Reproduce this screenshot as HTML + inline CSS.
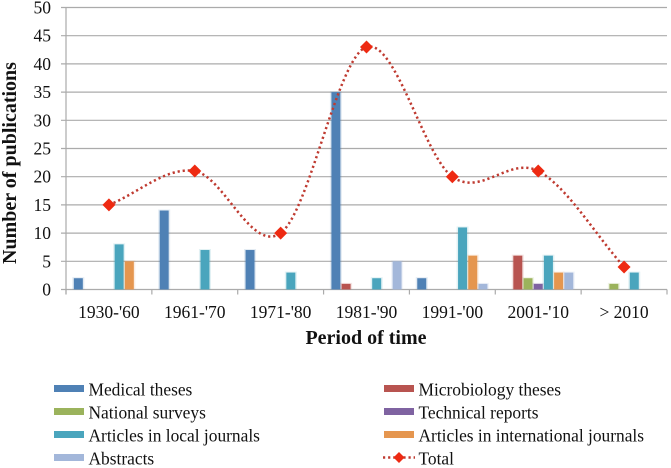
<!DOCTYPE html>
<html>
<head>
<meta charset="utf-8">
<title>Number of publications by period of time</title>
<style>
html,body{margin:0;padding:0;background:#fff;width:671px;height:468px;overflow:hidden}
svg{display:block;font-family:"Liberation Serif",serif;fill:#111}
</style>
</head>
<body>
<svg id="chart" width="671" height="468" viewBox="0 0 671 468" xmlns="http://www.w3.org/2000/svg"></svg>
<script>
var categories = ["1930-'60", "1961-'70", "1971-'80", "1981-'90", "1991-'00", "2001-'10", "> 2010"];
var yTicks = [0, 5, 10, 15, 20, 25, 30, 35, 40, 45, 50];
var medicalTheses = [2, 14, 7, 35, 2, 0, 0];
var microbiologyTheses = [0, 0, 0, 1, 0, 6, 0];
var nationalSurveys = [0, 0, 0, 0, 0, 2, 1];
var technicalReports = [0, 0, 0, 0, 0, 1, 0];
var localArticles = [8, 7, 3, 2, 11, 6, 3];
var internationalArticles = [5, 0, 0, 0, 6, 3, 0];
var abstractsCount = [0, 0, 0, 5, 1, 3, 0];
var totals = [15, 21, 10, 43, 20, 21, 4];
var seriesNames = ["Medical theses", "Microbiology theses", "National surveys", "Technical reports", "Articles in local journals", "Articles in international journals", "Abstracts"];
var seriesColors = ["#4f81b5", "#b85450", "#9bb35c", "#7f63a1", "#4aa5bd", "#e5964f", "#a3b7da"];
var seriesValues = [medicalTheses, microbiologyTheses, nationalSurveys, technicalReports, localArticles, internationalArticles, abstractsCount];

var svg = document.getElementById('chart');
var NS = 'http://www.w3.org/2000/svg';
var left = 66, right = 667, top0 = 7.5, bottom = 289.5, yMax = 50;
var catW = (right - left) / categories.length;
var slot = 10.2, barW = 9;
function y(v) { return bottom - (v / yMax) * (bottom - top0); }
function xCat(i) { return left + catW * i; }
function xMid(i) { return xCat(i) + catW / 2; }
function xBar(i, s) { return xMid(i) - slot * seriesValues.length / 2 + slot * s + (slot - barW) / 2; }
function mk(tag, attrs, parent) {
  var el = document.createElementNS(NS, tag);
  for (var k in attrs) el.setAttribute(k, attrs[k]);
  (parent || svg).appendChild(el);
  return el;
}
function diamond(cx, cy, r) {
  return (cx - r) + ',' + cy + ' ' + cx + ',' + (cy - r) + ' ' + (cx + r) + ',' + cy + ' ' + cx + ',' + (cy + r);
}

// gridlines and y tick labels
yTicks.forEach(function (t) {
  var line = mk('line', {x1: left - 5, x2: right, y1: y(t), y2: y(t), stroke: '#ababab', 'stroke-width': 1.2});
  
  
  var label = mk('text', {x: 51, y: y(t) + 6, 'text-anchor': 'end', 'font-size': 17.5});
  
  
  label.textContent = t;
});

// y axis line
var yAxis = mk('line', {x1: left, x2: left, y1: top0, y2: bottom + 5, stroke: '#ababab', 'stroke-width': 1.2});



// category ticks and labels
for (var c = 0; c <= categories.length; c++) {
  var tick = mk('line', {x1: xCat(c), x2: xCat(c), y1: bottom, y2: bottom + 5, stroke: '#ababab', 'stroke-width': 1.2});
  
  
}
categories.forEach(function (name, i) {
  var label = mk('text', {x: xMid(i), y: 318, 'text-anchor': 'middle', 'font-size': 17.5});
  
  
  label.textContent = name;
});

// bars
seriesValues.forEach(function (values, s) {
  values.forEach(function (v, i) {
    if (v <= 0) return;
    var halo = mk('rect', {x: xBar(i, s) - 1.5, y: y(v) - 1, width: barW + 3, height: bottom - y(v) + 1, fill: seriesColors[s], opacity: 0.16});
    
    
    var bar = mk('rect', {x: xBar(i, s), y: y(v), width: barW, height: bottom - y(v), fill: seriesColors[s]});
    
    
  });
});

// smoothed total line
var pts = totals.map(function (v, i) { return [xMid(i), y(v)]; });
var d = 'M' + pts[0][0] + ' ' + pts[0][1];
for (var p = 0; p < pts.length - 1; p++) {
  var p1 = pts[p], p2 = pts[p + 1];
  var c1x, c1y, c2x, c2y;
  if (p === 0) {
    c1x = p1[0] + (p2[0] - p1[0]) / 3;
    c1y = p1[1] + (p2[1] - p1[1]) / 3;
  } else {
    c1x = p1[0] + (p2[0] - pts[p - 1][0]) / 6;
    c1y = p1[1] + (p2[1] - pts[p - 1][1]) / 6;
  }
  if (p === pts.length - 2) {
    c2x = p2[0] - (p2[0] - p1[0]) / 3;
    c2y = p2[1] - (p2[1] - p1[1]) / 3;
  } else {
    c2x = p2[0] - (pts[p + 2][0] - p1[0]) / 6;
    c2y = p2[1] - (pts[p + 2][1] - p1[1]) / 6;
  }
  d += ' C' + c1x + ' ' + c1y + ' ' + c2x + ' ' + c2y + ' ' + p2[0] + ' ' + p2[1];
}
var totalLine = mk('path', {d: d, fill: 'none', stroke: '#bf3a30', 'stroke-width': 2.5, 'stroke-dasharray': '2.2 2.9'});


pts.forEach(function (pt, i) {
  var m = mk('polygon', {points: diamond(pt[0], pt[1], 6.5), fill: '#ee2a12'});
  
  
});

// axis titles
var xTitle = mk('text', {x: 366, y: 344, 'text-anchor': 'middle', 'font-size': 20, 'font-weight': 'bold'});


xTitle.textContent = 'Period of time';
var yTitle = mk('text', {x: 0, y: 0, 'text-anchor': 'middle', 'font-size': 20, 'font-weight': 'bold', transform: 'translate(16 163) rotate(-90)'});


yTitle.textContent = 'Number of publications';

// legend
var legendColumns = [0, 1, 0, 1, 0, 1, 0];
var legendRows = [0, 0, 1, 1, 2, 2, 3];
var colX = [54, 384], rowY = [388.5, 411.5, 434.5, 457.5];
seriesNames.forEach(function (name, s) {
  var sx = colX[legendColumns[s]], sy = rowY[legendRows[s]];
  var sw = mk('rect', {x: sx, y: sy - 3.5, width: 30, height: 7, fill: seriesColors[s]});
  
  
  var t = mk('text', {x: sx + 34.5, y: sy + 7, 'font-size': 17.4});
  
  
  t.textContent = name;
});
var legLine = mk('line', {x1: 383, x2: 415, y1: rowY[3], y2: rowY[3], stroke: '#bf3a30', 'stroke-width': 2.5, 'stroke-dasharray': '2.2 2.9'});


var legMark = mk('polygon', {points: diamond(399, rowY[3], 5.5), fill: '#ee2a12'});


var legText = mk('text', {x: 418.5, y: rowY[3] + 7, 'font-size': 17.4});


legText.textContent = 'Total';
</script>
</body>
</html>
